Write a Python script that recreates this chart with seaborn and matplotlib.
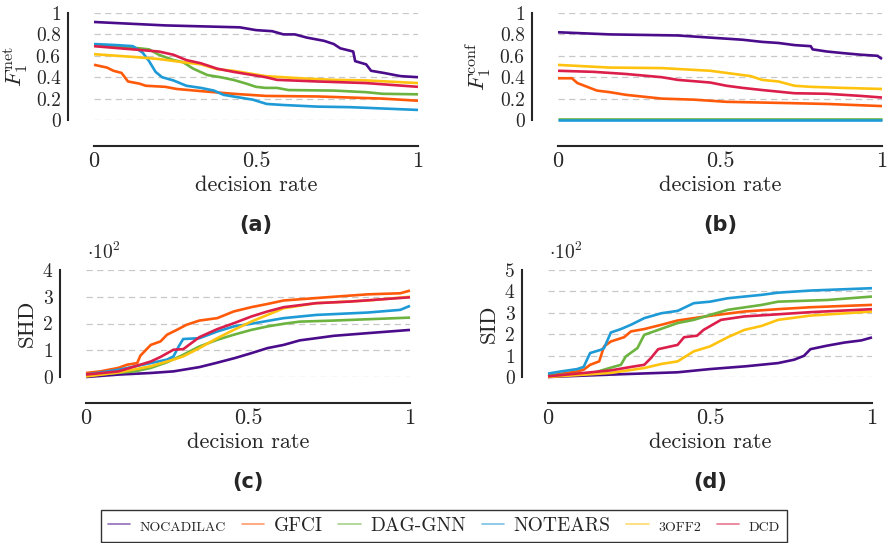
import matplotlib
matplotlib.use('Agg')
import numpy as np
import pandas as pd
import matplotlib.pyplot as plt
from matplotlib.lines import Line2D
import seaborn as sns

# methods, in legend / drawing order
methods = ['NOCADILAC', 'GFCI', 'DAG-GNN', 'NOTEARS', '3OFF2', 'DCD']
legend_labels = ['NOCADILAC', 'GFCI', 'DAG-GNN', 'NOTEARS', '3OFF2', 'DCD']
small_caps = [True, False, False, False, True, True]
colors = ['#4B0C8B', '#FF5A0A', '#6CB33F', '#1E9AD6', '#FFC30F', '#DC1E4B']

# (a) F1 net vs decision rate : (x, y)
f1_net = {
    'NOCADILAC': ([0, .22, .45, .5, .55, .585, .62, .657, .71, .74, .76, .80, .806, .84, .855, .894, .946, 1],
                  [.916, .884, .866, .84, .83, .80, .80, .77, .74, .71, .67, .64, .55, .52, .46, .44, .41, .40]),
    'GFCI': ([0, .04, .06, .085, .105, .14, .16, .22, .255, .33, .43, .53, .69, .79, .89, 1],
             [.516, .49, .46, .44, .36, .34, .32, .31, .29, .27, .245, .225, .22, .21, .20, .18]),
    'DAG-GNN': ([0, .07, .14, .17, .2, .245, .275, .306, .35, .39, .43, .47, .5, .53, .565, .6, .74, .84, .89, 1],
                [.70, .69, .67, .66, .61, .56, .54, .48, .42, .40, .375, .34, .31, .30, .30, .28, .275, .26, .245, .24]),
    'NOTEARS': ([0, .07, .12, .15, .17, .19, .21, .245, .285, .33, .37, .4, .45, .49, .533, .585, .69, .79, 1],
                [.71, .70, .69, .63, .55, .45, .40, .37, .32, .30, .275, .235, .21, .19, .15, .14, .125, .12, .094]),
    '3OFF2': ([0, .12, .2, .275, .33, .38, .43, .53, .636, .74, .84, 1],
              [.615, .59, .57, .54, .52, .475, .46, .41, .39, .375, .37, .345]),
    'DCD': ([0, .12, .2, .245, .285, .33, .38, .43, .49, .53, .565, .69, .84, 1],
            [.69, .66, .64, .61, .56, .53, .48, .45, .42, .40, .375, .36, .345, .31]),
}

# (b) F1 conf vs decision rate
f1_conf = {
    'NOCADILAC': ([0, .16, .37, .47, .57, .63, .68, .73, .78, .786, .83, .88, .935, .986, 1],
                  [.82, .80, .79, .77, .75, .73, .72, .70, .69, .66, .64, .625, .61, .60, .57]),
    'GFCI': ([0, .043, .06, .09, .12, .16, .21, .32, .42, .52, .68, .83, 1],
             [.39, .39, .345, .31, .275, .26, .235, .20, .19, .17, .16, .15, .13]),
    'DAG-GNN': ([0, 1], [.01, .01]),
    'NOTEARS': ([0, 1], [0, 0]),
    '3OFF2': ([0, .16, .32, .47, .52, .595, .63, .68, .73, .78, .88, 1],
              [.515, .49, .485, .46, .44, .41, .375, .36, .32, .31, .30, .29]),
    'DCD': ([0, .11, .21, .32, .37, .47, .52, .57, .63, .73, .83, .935, 1],
            [.46, .45, .43, .40, .375, .35, .32, .30, .28, .25, .245, .225, .21]),
}

# (c) SHD vs decision rate (raw counts)
shd = {
    'NOCADILAC': ([0, .1, .2, .27, .35, .4, .46, .51, .56, .61, .66, .71, .765, .87, 1],
                  [0, 9, 15, 21, 37, 52, 71, 89, 108, 120, 137, 145, 154, 164, 176]),
    'GFCI': ([0, .044, .1, .127, .158, .168, .2, .23, .25, .28, .31, .35, .405, .456, .51, .56, .61, .765, .87, .97, 1],
             [15, 21, 34, 46, 52, 80, 120, 133, 158, 176, 195, 211, 220, 245, 261, 273, 286, 300, 309, 313, 323]),
    'DAG-GNN': ([0, .15, .2, .25, .3, .35, .405, .456, .51, .56, .61, .66, .765, 1],
                [5, 21, 34, 55, 83, 114, 139, 158, 176, 189, 199, 207, 211, 222]),
    'NOTEARS': ([0, .1, .2, .25, .27, .286, .3, .35, .405, .456, .51, .61, .71, .87, .97, 1],
                [9, 27, 52, 65, 77, 114, 142, 145, 170, 189, 199, 220, 232, 241, 251, 266]),
    '3OFF2': ([0, .1, .2, .27, .3, .35, .405, .456, .51, .56, .61, .71, .87, 1],
              [2, 17, 40, 65, 77, 108, 145, 176, 207, 232, 257, 276, 286, 300]),
    'DCD': ([0, .1, .2, .23, .27, .3, .35, .405, .456, .51, .56, .61, .71, .815, 1],
            [9, 21, 58, 75, 102, 104, 149, 179, 201, 226, 245, 261, 276, 282, 298]),
}

# (d) SID vs decision rate (raw counts)
sid = {
    'NOCADILAC': ([0, .19, .4, .5, .61, .71, .76, .79, .81, .86, .915, .967, 1],
                  [0, 11, 22, 37, 50, 65, 81, 99, 130, 146, 161, 171, 185]),
    'GFCI': ([0, .09, .11, .13, .158, .173, .194, .235, .256, .297, .35, .4, .5, .606, .71, .81, 1],
             [6, 26, 34, 57, 73, 143, 166, 186, 213, 224, 244, 264, 286, 306, 317, 326, 337]),
    'DAG-GNN': ([0, .14, .19, .225, .24, .276, .297, .34, .4, .45, .5, .555, .66, .71, .864, 1],
                [6, 19, 42, 57, 96, 135, 197, 220, 252, 267, 290, 314, 337, 352, 360, 376]),
    'NOTEARS': ([0, .04, .09, .11, .13, .163, .173, .194, .225, .256, .297, .35, .4, .45, .5, .555, .66, .71, .81, 1],
                [16, 26, 37, 47, 112, 127, 135, 208, 224, 244, 275, 298, 309, 345, 352, 368, 384, 394, 404, 415]),
    '3OFF2': ([0, .194, .297, .35, .4, .45, .5, .555, .606, .66, .71, .81, 1],
              [0, 19, 42, 61, 73, 120, 143, 186, 220, 239, 267, 287, 306]),
    'DCD': ([0, .194, .256, .297, .318, .34, .4, .42, .46, .48, .534, .606, .71, .81, 1],
            [3, 31, 47, 57, 89, 130, 150, 186, 193, 220, 267, 283, 293, 303, 317]),
}

sns.set_style('white')
plt.rcParams['font.family'] = ['cmr10', 'DejaVu Serif']
plt.rcParams['mathtext.fontset'] = 'cm'
plt.rcParams['axes.formatter.use_mathtext'] = True
plt.rcParams['axes.unicode_minus'] = False

W, H = 888, 543
fig = plt.figure(figsize=(W / 100, H / 100), dpi=100)


def px_axes(left, top, right, bottom):
    # pixel box -> figure fraction
    return fig.add_axes([left / W, 1 - bottom / H, (right - left) / W, (bottom - top) / H])


def panel(ax, data, ymax, yticks, ylabel, scale, tag):
    frames = []
    for m in methods:
        x, y = data[m]
        frames.append(pd.DataFrame({'rate': x, 'value': np.array(y) / scale, 'method': m}))
    df = pd.concat(frames, ignore_index=True)
    sns.lineplot(data=df, x='rate', y='value', hue='method', hue_order=methods,
                 palette=colors, estimator=None, sort=False, lw=1.9,
                 legend=False, ax=ax)
    for ln in ax.lines:
        ln.set_clip_on(False)
        ln.set_solid_capstyle('butt')
    ax.set_xlim(0, 1)
    ax.set_ylim(0, ymax)
    ax.set_yticks(yticks)
    ax.set_yticklabels([('%g' % t) for t in yticks])
    ax.set_xticks([0, 0.5, 1])
    ax.set_xticklabels(['0', '0.5', '1'])
    ax.yaxis.grid(True, ls=(0, (5, 3.5)), color='#c8c8c8', lw=0.9)
    ax.set_axisbelow(True)
    sns.despine(ax=ax, offset=19)
    ax.spines['left'].set_linewidth(1.5)
    ax.spines['bottom'].set_linewidth(1.5)
    ax.tick_params(axis='y', direction='out', length=3, width=1.3, pad=2, labelsize=14)
    ax.tick_params(axis='x', direction='in', length=3, width=1.3, pad=4, labelsize=16)
    ax.set_xlabel('decision rate', fontsize=16, labelpad=3)
    ax.set_ylabel(ylabel, fontsize=16.5, labelpad=4)
    ax.text(0.5, -0.98, tag, transform=ax.transAxes, ha='center', va='center',
            fontsize=15, fontweight='bold', family='DejaVu Sans')
    if scale != 1:
        ax.annotate(r'$\cdot 10^2$', xy=(0, 1), xycoords='axes fraction',
                    xytext=(1, 5), textcoords='offset points',
                    ha='left', va='bottom', fontsize=14)


ax_a = px_axes(94, 13, 418, 120)
ax_b = px_axes(558, 13, 882, 120)
ax_c = px_axes(86, 270, 410, 377)
ax_d = px_axes(548, 270, 872, 377)

panel(ax_a, f1_net, 1, [0, .2, .4, .6, .8, 1], r'$F_1^{\mathrm{net}}$', 1, '(a)')
panel(ax_b, f1_conf, 1, [0, .2, .4, .6, .8, 1], r'$F_1^{\mathrm{conf}}$', 1, '(b)')
panel(ax_c, shd, 4, [0, 1, 2, 3, 4], 'SHD', 100, '(c)')
panel(ax_d, sid, 5, [0, 1, 2, 3, 4, 5], 'SID', 100, '(d)')

handles = [Line2D([], [], color=c, lw=1.2, alpha=0.6) for c in colors]
leg = fig.legend(handles, legend_labels, loc='center', bbox_to_anchor=(444 / W, 1 - 526 / H),
                 ncol=6, fontsize=14, frameon=True, fancybox=False, edgecolor='black',
                 handlelength=1.15, handletextpad=0.5, columnspacing=0.8,
                 borderpad=0.35, borderaxespad=0)
leg.get_frame().set_linewidth(1.0)
for txt, sc in zip(leg.get_texts(), small_caps):
    if sc:
        txt.set_fontsize(10)

fig.savefig('out.png', dpi=100)
